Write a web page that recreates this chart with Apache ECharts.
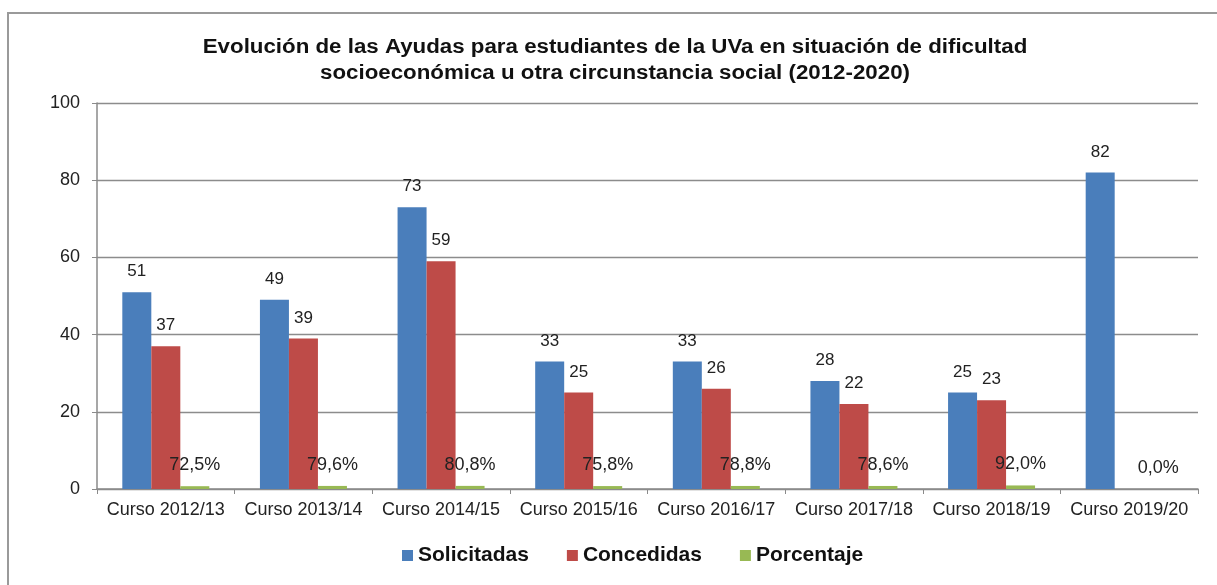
<!DOCTYPE html>
<html>
<head>
<meta charset="utf-8">
<script src="https://cdn.jsdelivr.net/npm/echarts@6/dist/echarts.min.js"></script>
<style>
  html, body { margin: 0; padding: 0; background: #ffffff; }
  #chart { width: 1217px; height: 585px; }
</style>
</head>
<body>
<div id="chart"></div>
<script>
// Academic years
const cursos = ['Curso 2012/13', 'Curso 2013/14', 'Curso 2014/15', 'Curso 2015/16',
                'Curso 2016/17', 'Curso 2017/18', 'Curso 2018/19', 'Curso 2019/20'];
// Applications received and grants awarded
const solicitadas = [51, 49, 73, 33, 33, 28, 25, 82];
const concedidas  = [37, 39, 59, 25, 26, 22, 23, 0];
// Share of applications granted (%), plotted as a fraction on the same axis
const porcentaje  = [72.5, 79.6, 80.8, 75.8, 78.8, 78.6, 92.0, 0.0];
const yTicks = [0, 20, 40, 60, 80, 100];
const titulo = 'Evolución de las Ayudas para estudiantes de la UVa en situación de dificultad\n' +
               'socioeconómica u otra circunstancia social (2012-2020)';

const font = 'Liberation Sans, Arial, sans-serif';
const chart = echarts.init(document.getElementById('chart'), null, { renderer: 'canvas' });

const labelStyle = { show: true, position: 'top', distance: 12, color: '#222', fontSize: 17, fontFamily: font };

chart.setOption({
  animation: false,
  backgroundColor: '#ffffff',
  graphic: [
    { type: 'rect', silent: true,
      shape: { x: 8, y: 13, width: 1240, height: 600 },
      style: { fill: 'none', stroke: '#9a9a9a', lineWidth: 2 } },
    // Two-line heading, drawn slightly widened
    { type: 'text', silent: true, x: 615, y: 34, scaleX: 1.115,
      style: { text: titulo, align: 'center', verticalAlign: 'top',
               font: 'bold 20px ' + font, fill: '#111', lineHeight: 26.5 } }
  ],
  legend: {
    top: 540, left: 397, itemWidth: 11, itemHeight: 11, itemGap: 38,
    icon: 'rect',
    textStyle: { fontFamily: font, fontSize: 21, fontWeight: 'bold', color: '#111', padding: 0 },
    data: ['Solicitadas', 'Concedidas', 'Porcentaje']
  },
  grid: { left: 97, right: 19, top: 103, bottom: 96, containLabel: false },
  xAxis: {
    type: 'category', data: cursos,
    axisLine: { lineStyle: { color: '#8a8a8a', width: 1.5 } },
    axisTick: { show: true, length: 5, lineStyle: { color: '#8a8a8a' } },
    axisLabel: { fontFamily: font, fontSize: 18, color: '#222', margin: 12, interval: 0 }
  },
  yAxis: {
    type: 'value', min: 0, max: 100, interval: 20,
    axisLine: { show: true, lineStyle: { color: '#8a8a8a', width: 1.5 } },
    axisTick: { show: true, length: 5, lineStyle: { color: '#8a8a8a' } },
    axisLabel: { fontFamily: font, fontSize: 18, color: '#222', margin: 17,
                 formatter: v => yTicks.includes(v) ? String(v) : '' },
    splitLine: { lineStyle: { color: '#8c8c8c', width: 1.3 } }
  },
  series: [
    { name: 'Solicitadas', type: 'bar', barWidth: 29, barGap: '0%',
      itemStyle: { color: '#4a7ebb' }, data: solicitadas, label: labelStyle },
    { name: 'Concedidas', type: 'bar', barWidth: 29, barGap: '0%',
      itemStyle: { color: '#be4b48' },
      data: concedidas.map(v => ({ value: v, label: { show: v > 0 } })), label: labelStyle },
    { name: 'Porcentaje', type: 'bar', barWidth: 29, barGap: '0%',
      itemStyle: { color: '#98b954' },
      data: porcentaje.map(v => v / 100),
      label: Object.assign({}, labelStyle, {
        distance: 12, fontSize: 18,
        formatter: p => porcentaje[p.dataIndex].toFixed(1).replace('.', ',') + '%'
      }) }
  ]
});
</script>
</body>
</html>
